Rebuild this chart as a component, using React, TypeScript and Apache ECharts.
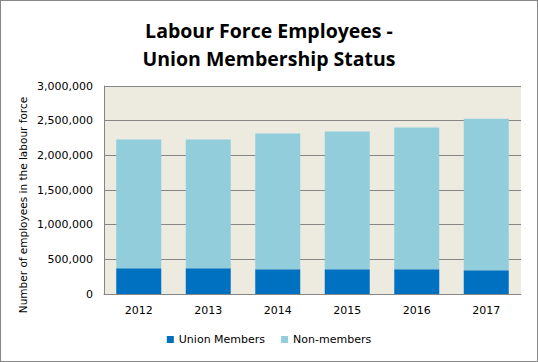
import React, { useEffect, useRef } from "react";
import * as echarts from "echarts";

const categories = ["2012", "2013", "2014", "2015", "2016", "2017"];
const unionMembers = [371000, 371000, 357000, 357000, 357000, 343000];
const nonMembers = [1858000, 1858000, 1957000, 1986000, 2043000, 2186000];
const titleText = "Labour Force Employees -\nUnion Membership Status";
const yAxisName = "Number of employees in the labour force";

export default function App() {
  const ref = useRef<HTMLDivElement>(null);
  useEffect(() => {
    document.body.style.margin = "0";
    if (!ref.current) return;
    const chart = echarts.init(ref.current, undefined, { renderer: "svg" });
    const font = "DejaVu Sans, Verdana, sans-serif";
    chart.setOption({
      animation: false,
      backgroundColor: "#ffffff",
      title: {
        text: titleText,
        left: "center",
        top: 10,
        textStyle: {
          fontFamily: "Open Sans, sans-serif",
          fontWeight: "bold",
          fontSize: 19.5,
          lineHeight: 28,
          color: "#000000",
        },
      },
      legend: {
        bottom: 11,
        left: "center",
        itemWidth: 7,
        itemHeight: 7,
        itemGap: 16,
        icon: "rect",
        textStyle: { fontFamily: font, fontSize: 11, color: "#000000" },
        data: ["Union Members", "Non-members"],
      },
      graphic: [
        {
          type: "text",
          x: 22,
          y: 204,
          rotation: Math.PI / 2,
          style: {
            text: yAxisName,
            fontFamily: font,
            fontSize: 10.5,
            fill: "#000000",
            align: "center",
            verticalAlign: "middle",
          },
        },
      ],
      grid: { left: 103, right: 16, top: 85, bottom: 67, show: true, backgroundColor: "#EDEBE0", borderWidth: 0 },
      xAxis: {
        type: "category",
        data: categories,
        axisLine: { show: true, lineStyle: { color: "#868686", width: 1 } },
        axisTick: { show: false },
        axisLabel: { fontFamily: font, fontSize: 11, color: "#000000", margin: 11 },
      },
      yAxis: {
        type: "value",
        min: 0,
        max: 3000000,
        interval: 500000,
        axisLine: { show: true, lineStyle: { color: "#868686", width: 1 } },
        axisTick: { show: false },
        splitLine: { show: true, lineStyle: { color: "#868686", width: 1 } },
        axisLabel: {
          fontFamily: font,
          fontSize: 11,
          color: "#000000",
          margin: 11,
          formatter: (v: number) => v.toLocaleString("en-US"),
        },
      },
      series: [
        {
          name: "Union Members",
          type: "bar",
          stack: "total",
          barWidth: 45,
          data: unionMembers,
          itemStyle: { color: "#0070C0" },
        },
        {
          name: "Non-members",
          type: "bar",
          stack: "total",
          barWidth: 45,
          data: nonMembers,
          itemStyle: { color: "#92CDDC" },
        },
      ],
    });
    return () => chart.dispose();
  }, []);
  return (
    <div
      ref={ref}
      style={{ width: 538, height: 362, border: "1px solid #878787", boxSizing: "border-box" }}
    />
  );
}
